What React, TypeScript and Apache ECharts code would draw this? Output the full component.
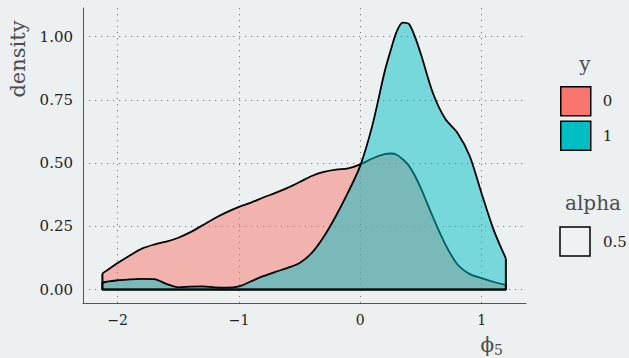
import React, { useEffect, useRef } from "react";
import * as echarts from "echarts";

const xs = [-2.126, -2.1, -2.0, -1.9, -1.8, -1.7, -1.6, -1.5, -1.4, -1.3, -1.2, -1.1, -1.0, -0.9, -0.8, -0.7, -0.6, -0.5, -0.4, -0.3, -0.2, -0.1, 0.0, 0.1, 0.2, 0.25, 0.3, 0.35, 0.4, 0.45, 0.5, 0.6, 0.7, 0.8, 0.9, 1.0, 1.1, 1.2];
const densityY0 = [0.064, 0.072, 0.105, 0.135, 0.162, 0.178, 0.19, 0.205, 0.227, 0.254, 0.282, 0.306, 0.327, 0.344, 0.364, 0.382, 0.402, 0.425, 0.449, 0.465, 0.474, 0.479, 0.495, 0.518, 0.535, 0.538, 0.533, 0.515, 0.49, 0.45, 0.4, 0.285, 0.18, 0.1, 0.062, 0.045, 0.03, 0.018];
const densityY1 = [0.028, 0.03, 0.037, 0.04, 0.042, 0.041, 0.023, 0.009, 0.012, 0.013, 0.009, 0.008, 0.013, 0.033, 0.053, 0.07, 0.086, 0.105, 0.145, 0.21, 0.292, 0.385, 0.49, 0.65, 0.86, 0.945, 1.02, 1.055, 1.05, 1.0, 0.93, 0.775, 0.675, 0.62, 0.53, 0.38, 0.235, 0.123];
const xTicks = [-2, -1, 0, 1];
const yTicks = [0, 0.25, 0.5, 0.75, 1.0];
const groups = ["0", "1"];
const groupColors = ["#F8766D", "#00BFC4"];

const FONT = "DejaVu Serif";
const BG = "#ECF0F1";

export default function App() {
  const ref = useRef<HTMLDivElement>(null);
  useEffect(() => {
    document.body.style.margin = "0";
    document.body.style.background = BG;
    const chart = echarts.init(ref.current!, null, { renderer: "svg" });
    const seriesVals = [densityY0, densityY1];
    const series: any[] = [];
    seriesVals.forEach((vals, i) => {
      const pts = xs.map((x, k) => [x, vals[k]]);
      series.push({
        name: groups[i],
        type: "line",
        data: pts,
        smooth: 0.3,
        symbol: "none",
        silent: true,
        lineStyle: { color: "#000", width: 1.8 },
        areaStyle: { color: groupColors[i], opacity: 0.5 },
        z: 2 + i * 2,
      });
      const n = xs.length - 1;
      series.push({
        name: groups[i] + "-frame",
        type: "line",
        data: [
          [xs[0], vals[0]],
          [xs[0], 0],
          [xs[n], 0],
          [xs[n], vals[n]],
        ],
        symbol: "none",
        silent: true,
        lineStyle: { color: "#000", width: 2 },
        z: 3 + i * 2,
      });
    });
    chart.setOption({
      animation: false,
      backgroundColor: BG,
      grid: { left: 83, right: 103, top: 8, bottom: 55 },
      xAxis: {
        type: "value",
        min: -2.286,
        max: 1.366,
        axisLine: { show: true, onZero: false, lineStyle: { color: "#555", width: 1 } },
        axisTick: { show: false, customValues: xTicks },
        axisLabel: {
          customValues: xTicks,
          margin: 10,
          fontFamily: FONT,
          fontSize: 14,
          color: "#222",
          formatter: (v: number) => (v < 0 ? "\u2212" + Math.abs(v) : String(v)),
        },
        splitLine: { show: true, lineStyle: { color: "#777", width: 1, type: [1.2, 4.8] } },
      },
      yAxis: {
        type: "value",
        min: -0.053,
        max: 1.113,
        axisLine: { show: true, onZero: false, lineStyle: { color: "#555", width: 1 } },
        axisTick: { show: false, customValues: yTicks },
        axisLabel: {
          customValues: yTicks,
          margin: 10,
          fontFamily: FONT,
          fontSize: 15,
          color: "#222",
          formatter: (v: number) => v.toFixed(2),
        },
        splitLine: { show: true, lineStyle: { color: "#777", width: 1, type: [1.2, 4.8] } },
      },
      legend: {
        orient: "vertical",
        left: 560,
        top: 86,
        padding: 0,
        itemWidth: 30,
        itemHeight: 29,
        itemGap: 4,
        selectedMode: false,
        textStyle: { fontFamily: FONT, fontSize: 15, color: "#222", padding: [0, 0, 0, 7] },
        data: groups.map((g, i) => ({
          name: g,
          icon: "rect",
          itemStyle: { color: groupColors[i], borderColor: "#000", borderWidth: 1.5, opacity: 1 },
        })),
      },
      graphic: [
        {
          type: "text",
          x: 18,
          y: 59,
          rotation: Math.PI / 2,
          style: { text: "density", fontFamily: FONT, fontSize: 21, fill: "#4d4d4d", textAlign: "center", textVerticalAlign: "middle" },
        },
        {
          type: "text",
          x: 503,
          y: 345,
          style: {
            text: "{a|\u03d5}{b|5}",
            textAlign: "right",
            textVerticalAlign: "middle",
            rich: {
              a: { fontFamily: FONT, fontSize: 20, fill: "#4d4d4d" },
              b: { fontFamily: FONT, fontSize: 14, fill: "#4d4d4d", padding: [10, 0, 0, 0] },
            },
          },
        },
        {
          type: "text",
          x: 585,
          y: 64,
          style: { text: "y", fontFamily: FONT, fontSize: 20, fill: "#4d4d4d", textAlign: "center", textVerticalAlign: "middle" },
        },
        {
          type: "text",
          x: 593,
          y: 203,
          style: { text: "alpha", fontFamily: FONT, fontSize: 20, fill: "#4d4d4d", textAlign: "center", textVerticalAlign: "middle" },
        },
        {
          type: "rect",
          shape: { x: 560, y: 227, width: 30, height: 29 },
          style: { fill: "rgba(255,255,255,0.15)", stroke: "#000", lineWidth: 1.5 },
        },
        {
          type: "text",
          x: 603,
          y: 242,
          style: { text: "0.5", fontFamily: FONT, fontSize: 15, fill: "#222", textAlign: "left", textVerticalAlign: "middle" },
        },
      ],
      series,
    });
    return () => chart.dispose();
  }, []);
  return <div ref={ref} style={{ width: 629, height: 358, background: BG }} />;
}
